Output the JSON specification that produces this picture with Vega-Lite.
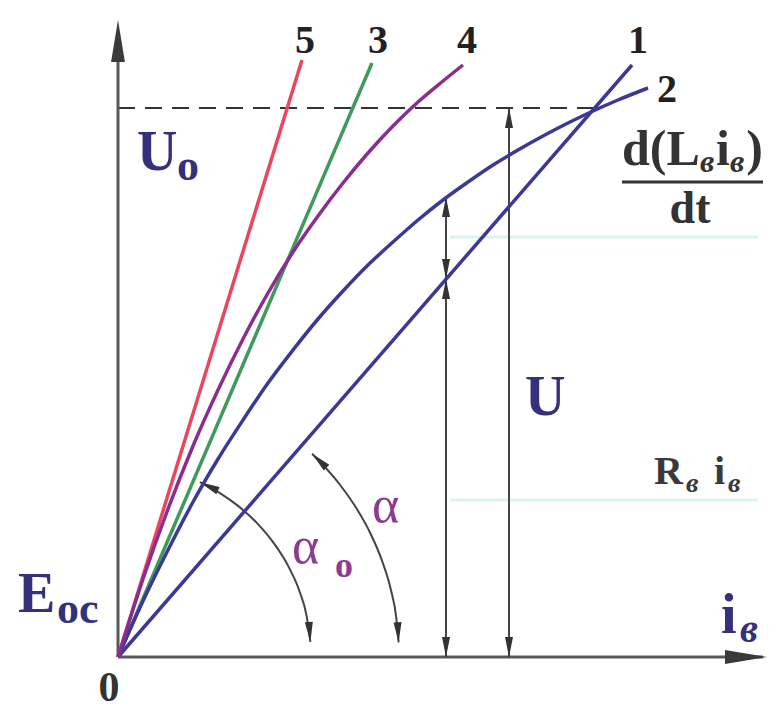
{
  "$schema": "https://vega.github.io/schema/vega-lite/v6.json",
  "width": 650,
  "height": 637,
  "autosize": {"type": "none"},
  "padding": {"left": 118, "top": 20, "right": 4, "bottom": 58},
  "background": "white",
  "config": {"view": {"stroke": null}},
  "datasets": {
    "curves": [
      {"curve": "1", "x": 0, "y": 0}, {"curve": "1", "x": 5.14, "y": 5.92},
      {"curve": "3", "x": 0, "y": 0}, {"curve": "3", "x": 2.54, "y": 5.94},
      {"curve": "5", "x": 0, "y": 0}, {"curve": "5", "x": 1.84, "y": 5.97},
      {"curve": "2", "x": 0, "y": 0}, {"curve": "2", "x": 0.25, "y": 0.56},
      {"curve": "2", "x": 0.5, "y": 1.07}, {"curve": "2", "x": 0.75, "y": 1.55},
      {"curve": "2", "x": 1.0, "y": 1.98}, {"curve": "2", "x": 1.25, "y": 2.37},
      {"curve": "2", "x": 1.5, "y": 2.74}, {"curve": "2", "x": 1.75, "y": 3.07},
      {"curve": "2", "x": 2.0, "y": 3.38}, {"curve": "2", "x": 2.25, "y": 3.66},
      {"curve": "2", "x": 2.5, "y": 3.92}, {"curve": "2", "x": 2.75, "y": 4.15},
      {"curve": "2", "x": 3.0, "y": 4.37}, {"curve": "2", "x": 3.25, "y": 4.57},
      {"curve": "2", "x": 3.5, "y": 4.75}, {"curve": "2", "x": 3.75, "y": 4.92},
      {"curve": "2", "x": 4.0, "y": 5.07}, {"curve": "2", "x": 4.25, "y": 5.21},
      {"curve": "2", "x": 4.5, "y": 5.34}, {"curve": "2", "x": 4.75, "y": 5.46},
      {"curve": "2", "x": 5.0, "y": 5.57}, {"curve": "2", "x": 5.3, "y": 5.69},
      {"curve": "4", "x": 0, "y": 0}, {"curve": "4", "x": 0.25, "y": 0.78},
      {"curve": "4", "x": 0.5, "y": 1.48}, {"curve": "4", "x": 0.75, "y": 2.11},
      {"curve": "4", "x": 1.0, "y": 2.67}, {"curve": "4", "x": 1.25, "y": 3.18},
      {"curve": "4", "x": 1.5, "y": 3.64}, {"curve": "4", "x": 1.75, "y": 4.05},
      {"curve": "4", "x": 2.0, "y": 4.41}, {"curve": "4", "x": 2.25, "y": 4.74},
      {"curve": "4", "x": 2.5, "y": 5.04}, {"curve": "4", "x": 2.75, "y": 5.31},
      {"curve": "4", "x": 3.0, "y": 5.55}, {"curve": "4", "x": 3.25, "y": 5.76},
      {"curve": "4", "x": 3.45, "y": 5.92}
    ],
    "arcs": [
      {"arc": "a", "x": 2.806, "y": 0.147}, {"arc": "a", "x": 2.783, "y": 0.391},
      {"arc": "a", "x": 2.727, "y": 0.68}, {"arc": "a", "x": 2.641, "y": 0.961},
      {"arc": "a", "x": 2.526, "y": 1.232}, {"arc": "a", "x": 2.383, "y": 1.489},
      {"arc": "a", "x": 2.214, "y": 1.73}, {"arc": "a", "x": 1.941, "y": 2.032},
      {"arc": "a0", "x": 1.924, "y": 0.151}, {"arc": "a0", "x": 1.888, "y": 0.401},
      {"arc": "a0", "x": 1.814, "y": 0.66}, {"arc": "a0", "x": 1.704, "y": 0.906},
      {"arc": "a0", "x": 1.561, "y": 1.134}, {"arc": "a0", "x": 1.388, "y": 1.341},
      {"arc": "a0", "x": 1.188, "y": 1.521}, {"arc": "a0", "x": 1.023, "y": 1.637},
      {"arc": "a0", "x": 0.819, "y": 1.748}
    ],
    "verticals": [
      {"x": 3.28, "y": 0, "y2": 4.6},
      {"x": 3.91, "y": 0, "y2": 5.49}
    ],
    "tipsUp": [
      {"x": 3.28, "y": 4.6}, {"x": 3.28, "y": 3.78}, {"x": 3.91, "y": 5.49}
    ],
    "tipsDown": [
      {"x": 3.28, "y": 0}, {"x": 3.28, "y": 3.78}, {"x": 3.91, "y": 0}
    ],
    "numbers": [
      {"t": "5", "x": 1.87, "y": 6.04}, {"t": "3", "x": 2.6, "y": 6.04},
      {"t": "4", "x": 3.49, "y": 6.04}, {"t": "1", "x": 5.2, "y": 6.04},
      {"t": "2", "x": 5.49, "y": 5.55}
    ],
    "symbols": [
      {"t": "U", "x": 0.19, "y": 4.87}, {"t": "U", "x": 4.07, "y": 2.42},
      {"t": "E", "x": -1.0, "y": 0.45}, {"t": "i", "x": 6.03, "y": 0.24}
    ],
    "subs": [
      {"t": "o", "x": 0.59, "y": 4.77}, {"t": "oc", "x": -0.61, "y": 0.34}
    ],
    "subsItalic": [
      {"t": "в", "x": 6.22, "y": 0.15}
    ],
    "formula": [
      {"t": "d(L", "x": 5.04, "y": 4.92}, {"t": "i", "x": 5.98, "y": 4.92}
    ],
    "formulaSubs": [
      {"t": "в", "x": 5.82, "y": 4.85}, {"t": "в", "x": 6.12, "y": 4.85}
    ],
    "resist": [
      {"t": "R", "x": 5.36, "y": 1.73}, {"t": "i", "x": 5.96, "y": 1.73}
    ],
    "resistSubs": [
      {"t": "в", "x": 5.68, "y": 1.65}, {"t": "в", "x": 6.1, "y": 1.65}
    ]
  },
  "encoding": {
    "x": {"field": "x", "type": "quantitative", "scale": {"domain": [0, 6.5], "nice": false, "zero": false}, "axis": null},
    "y": {"field": "y", "type": "quantitative", "scale": {"domain": [0, 6.37], "nice": false, "zero": false}, "axis": null}
  },
  "layer": [
    {
      "data": {"values": [{"x": 3.32, "x2": 6.4, "y": 4.2}, {"x": 3.32, "x2": 6.4, "y": 1.57}]},
      "mark": {"type": "rule", "color": "#d9f3f1", "strokeWidth": 3},
      "encoding": {"x2": {"field": "x2"}}
    },
    {
      "data": {"values": [{"x": 0, "x2": 4.82, "y": 5.49}]},
      "mark": {"type": "rule", "color": "#333333", "strokeWidth": 2, "strokeDash": [17, 10]},
      "encoding": {"x2": {"field": "x2"}}
    },
    {
      "data": {"values": [{"x": 0, "x2": 6.45, "y": 0}]},
      "mark": {"type": "rule", "color": "#585858", "strokeWidth": 3},
      "encoding": {"x2": {"field": "x2"}}
    },
    {
      "data": {"values": [{"x": 0, "y": 0, "y2": 6.2}]},
      "mark": {"type": "rule", "color": "#585858", "strokeWidth": 3},
      "encoding": {"y2": {"field": "y2"}}
    },
    {
      "data": {"values": [{"x": 6.49, "y": 0}]},
      "mark": {"type": "point", "filled": true, "color": "#3a3a3a", "opacity": 1, "size": 1764, "shape": "M0,0L-2,-0.33L-2,0.33Z"}
    },
    {
      "data": {"values": [{"x": 0, "y": 6.37}]},
      "mark": {"type": "point", "filled": true, "color": "#3a3a3a", "opacity": 1, "size": 1764, "shape": "M0,0L-0.33,2L0.33,2Z"}
    },
    {
      "data": {"name": "verticals"},
      "mark": {"type": "rule", "color": "#444444", "strokeWidth": 2},
      "encoding": {"y2": {"field": "y2"}}
    },
    {
      "data": {"name": "tipsUp"},
      "mark": {"type": "point", "filled": true, "color": "#333333", "opacity": 1, "size": 400, "shape": "M0,0L-0.4,2L0.4,2Z"}
    },
    {
      "data": {"name": "tipsDown"},
      "mark": {"type": "point", "filled": true, "color": "#333333", "opacity": 1, "size": 400, "shape": "M0,0L-0.4,-2L0.4,-2Z"}
    },
    {
      "data": {"name": "arcs"},
      "mark": {"type": "line", "color": "#444444", "strokeWidth": 2, "interpolate": "monotone"},
      "encoding": {"detail": {"field": "arc"}}
    },
    {
      "data": {"values": [{"x": 1.941, "y": 2.032}]},
      "mark": {"type": "point", "filled": true, "color": "#333333", "opacity": 1, "size": 400, "angle": 313.7, "shape": "M0,0L-0.4,2L0.4,2Z"}
    },
    {
      "data": {"values": [{"x": 2.806, "y": 0.147}]},
      "mark": {"type": "point", "filled": true, "color": "#333333", "opacity": 1, "size": 400, "angle": 357, "shape": "M0,0L-0.4,-2L0.4,-2Z"}
    },
    {
      "data": {"values": [{"x": 0.819, "y": 1.748}]},
      "mark": {"type": "point", "filled": true, "color": "#333333", "opacity": 1, "size": 400, "angle": 295.1, "shape": "M0,0L-0.4,2L0.4,2Z"}
    },
    {
      "data": {"values": [{"x": 1.924, "y": 0.151}]},
      "mark": {"type": "point", "filled": true, "color": "#333333", "opacity": 1, "size": 400, "angle": 355.5, "shape": "M0,0L-0.4,-2L0.4,-2Z"}
    },
    {
      "data": {"name": "curves"},
      "mark": {"type": "line", "strokeWidth": 3.5, "interpolate": "monotone"},
      "encoding": {
        "color": {"field": "curve", "type": "nominal", "legend": null,
          "scale": {"domain": ["1", "2", "3", "4", "5"], "range": ["#3b3896", "#3b3896", "#3f9a5c", "#8b2d8f", "#e8475f"]}}
      }
    },
    {
      "data": {"name": "numbers"},
      "mark": {"type": "text", "font": "Liberation Serif", "fontWeight": "bold", "fontSize": 40, "color": "#222222", "align": "center", "baseline": "alphabetic"},
      "encoding": {"text": {"field": "t"}}
    },
    {
      "data": {"name": "symbols"},
      "mark": {"type": "text", "font": "Liberation Serif", "fontWeight": "bold", "fontSize": 56, "color": "#34307c", "align": "left", "baseline": "alphabetic"},
      "encoding": {"text": {"field": "t"}}
    },
    {
      "data": {"name": "subs"},
      "mark": {"type": "text", "font": "Liberation Serif", "fontWeight": "bold", "fontSize": 44, "color": "#34307c", "align": "left", "baseline": "alphabetic"},
      "encoding": {"text": {"field": "t"}}
    },
    {
      "data": {"name": "subsItalic"},
      "mark": {"type": "text", "font": "Liberation Serif", "fontWeight": "bold", "fontStyle": "italic", "fontSize": 40, "color": "#34307c", "align": "left", "baseline": "alphabetic"},
      "encoding": {"text": {"field": "t"}}
    },
    {
      "data": {"values": [{"t": "0", "x": -0.09, "y": -0.44}]},
      "mark": {"type": "text", "font": "Liberation Serif", "fontWeight": "bold", "fontSize": 42, "color": "#333333", "align": "center", "baseline": "alphabetic"},
      "encoding": {"text": {"field": "t"}}
    },
    {
      "data": {"name": "formula"},
      "mark": {"type": "text", "font": "Liberation Serif", "fontWeight": "bold", "fontSize": 50, "color": "#333333", "align": "left", "baseline": "alphabetic"},
      "encoding": {"text": {"field": "t"}}
    },
    {
      "data": {"values": [{"t": ")", "x": 6.45, "y": 4.92}]},
      "mark": {"type": "text", "font": "Liberation Serif", "fontWeight": "bold", "fontSize": 50, "color": "#333333", "align": "right", "baseline": "alphabetic"},
      "encoding": {"text": {"field": "t"}}
    },
    {
      "data": {"name": "formulaSubs"},
      "mark": {"type": "text", "font": "Liberation Serif", "fontWeight": "bold", "fontStyle": "italic", "fontSize": 32, "color": "#333333", "align": "left", "baseline": "alphabetic"},
      "encoding": {"text": {"field": "t"}}
    },
    {
      "data": {"values": [{"x": 5.04, "x2": 6.45, "y": 4.75}]},
      "mark": {"type": "rule", "color": "#333333", "strokeWidth": 3},
      "encoding": {"x2": {"field": "x2"}}
    },
    {
      "data": {"values": [{"t": "dt", "x": 5.72, "y": 4.34}]},
      "mark": {"type": "text", "font": "Liberation Serif", "fontWeight": "bold", "fontSize": 46, "color": "#333333", "align": "center", "baseline": "alphabetic"},
      "encoding": {"text": {"field": "t"}}
    },
    {
      "data": {"name": "resist"},
      "mark": {"type": "text", "font": "Liberation Serif", "fontWeight": "bold", "fontSize": 40, "color": "#3a3a3a", "align": "left", "baseline": "alphabetic"},
      "encoding": {"text": {"field": "t"}}
    },
    {
      "data": {"name": "resistSubs"},
      "mark": {"type": "text", "font": "Liberation Serif", "fontWeight": "bold", "fontStyle": "italic", "fontSize": 28, "color": "#3a3a3a", "align": "left", "baseline": "alphabetic"},
      "encoding": {"text": {"field": "t"}}
    },
    {
      "data": {"values": [{"t": "α", "x": 2.54, "y": 1.35}, {"t": "α", "x": 1.74, "y": 0.94}]},
      "mark": {"type": "text", "font": "Liberation Serif", "fontSize": 52, "color": "#8e3a8e", "align": "left", "baseline": "alphabetic"},
      "encoding": {"text": {"field": "t"}}
    },
    {
      "data": {"values": [{"t": "o", "x": 2.17, "y": 0.8}]},
      "mark": {"type": "text", "font": "Liberation Serif", "fontWeight": "bold", "fontSize": 36, "color": "#8e3a8e", "align": "left", "baseline": "alphabetic"},
      "encoding": {"text": {"field": "t"}}
    }
  ]
}
